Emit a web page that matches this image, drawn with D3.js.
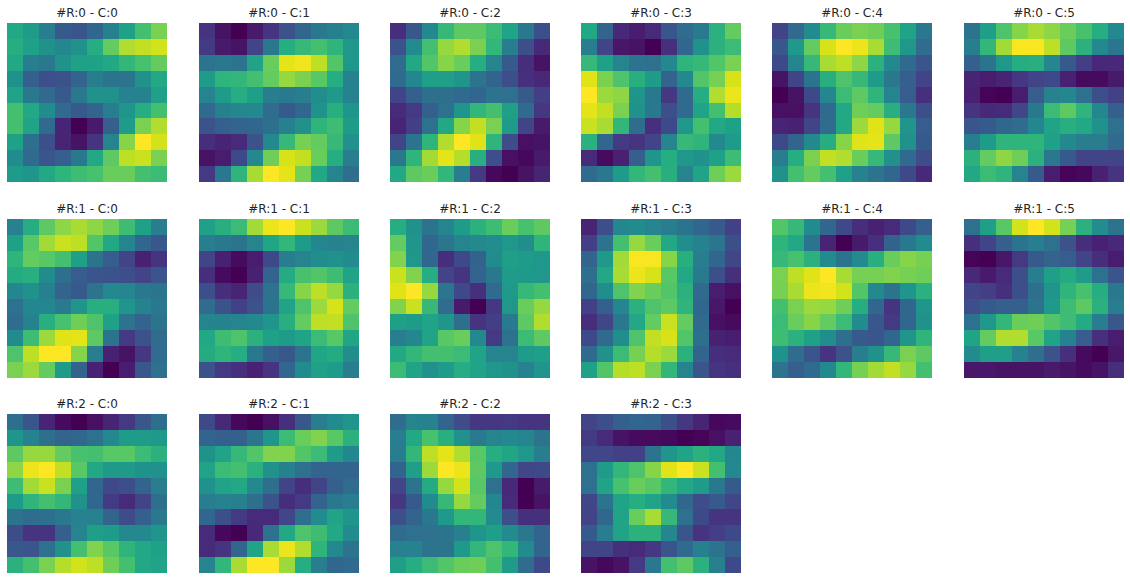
<!DOCTYPE html>
<html><head><meta charset="utf-8">
<script src="https://cdn.jsdelivr.net/npm/d3@7"></script>
<style>html,body{margin:0;padding:0;background:#fff;overflow:hidden}svg{display:block}text{font-family:"DejaVu Sans",sans-serif;font-size:12px;fill:#262626}rect{shape-rendering:crispEdges}</style>
</head><body><svg id="c" width="1130" height="581"></svg>
<script>
const R0C0=[[60,55,42,28,26,33,43,57,70,80],[62,57,50,46,50,62,76,88,91,93],[60,42,40,50,57,57,60,66,71,76],[50,30,24,25,32,42,38,38,50,60],[58,40,34,28,40,50,50,44,44,57],[70,60,48,34,28,32,42,52,62,70],[70,58,34,10,0,7,30,55,80,88],[57,36,24,10,5,15,45,82,100,93],[48,34,26,30,40,60,75,90,92,80],[55,52,60,65,69,71,77,77,70,68]];
const R0C1=[[15,5,0,7,15,25,33,40,43,47],[17,7,5,20,40,62,67,70,65,53],[38,40,38,58,77,96,98,90,73,53],[55,65,66,70,76,84,80,74,62,44],[45,55,62,56,42,41,42,49,54,44],[34,43,46,47,35,28,33,50,63,52],[25,30,32,33,36,43,50,65,69,55],[13,10,12,25,47,67,79,76,67,50],[5,8,22,47,78,94,91,77,62,42],[17,40,65,87,100,96,79,60,45,36]];
const R0C2=[[13,27,47,67,75,75,68,58,40,24],[25,48,70,84,88,80,66,42,24,11],[35,60,73,82,77,62,45,28,13,5],[34,46,56,56,52,38,32,24,14,11],[20,30,36,36,34,33,38,37,28,18],[12,17,30,37,52,66,70,56,34,16],[10,18,37,60,82,91,80,55,20,7],[20,38,65,88,100,95,65,23,4,5],[40,65,86,96,89,63,24,4,2,7],[60,75,77,66,42,17,2,0,5,10]];
const R0C3=[[60,32,11,8,12,26,35,41,64,76],[42,20,6,5,0,14,33,50,64,68],[67,57,45,38,37,47,65,67,73,80],[95,80,72,63,55,32,47,73,79,94],[100,85,83,52,40,16,34,62,88,97],[96,91,80,50,40,24,34,58,70,89],[92,87,66,35,14,22,53,70,60,57],[64,33,17,15,20,45,67,65,47,55],[12,3,9,30,52,62,53,50,57,69],[34,40,55,66,70,63,45,58,78,85]];
const R0C4=[[20,34,48,67,77,80,78,71,58,40],[27,54,76,94,100,97,87,69,53,35],[22,45,67,87,90,83,64,47,34,26],[5,20,38,63,72,67,55,40,30,20],[0,5,22,46,68,75,65,45,29,14],[4,4,15,34,60,78,76,63,40,24],[10,9,20,35,60,85,95,84,52,29],[22,32,47,62,82,95,96,75,50,28],[42,62,80,91,88,77,67,50,34,23],[50,70,76,70,57,44,38,33,22,11]];
const R0C5=[[38,56,72,82,87,83,77,71,62,47],[42,66,86,99,99,90,75,64,47,39],[30,38,53,62,63,46,28,18,11,11],[10,8,10,16,20,22,9,3,3,7],[9,1,0,8,29,44,46,37,24,19],[15,11,12,21,40,68,75,65,46,30],[26,28,33,35,46,58,63,60,50,37],[42,55,65,65,65,57,47,42,42,34],[64,76,83,78,64,40,28,20,20,20],[60,68,65,45,28,8,1,2,9,15]];
const R1C0=[[44,62,75,83,87,83,78,69,57,42],[57,74,86,92,90,73,60,45,33,27],[65,76,74,70,56,38,29,20,9,15],[61,63,48,36,29,26,25,24,20,26],[46,50,43,32,28,38,47,46,40,38],[37,46,46,41,52,63,63,52,44,40],[35,44,63,71,78,72,57,38,32,38],[48,69,85,95,96,75,38,17,25,35],[72,90,100,100,82,42,9,5,16,35],[80,85,76,55,31,9,0,8,27,37]];
const R1C1=[[57,63,68,86,97,100,92,85,75,68],[42,40,38,45,59,66,55,46,44,45],[20,9,3,8,22,42,45,49,50,48],[13,3,0,9,32,61,71,73,69,58],[24,13,10,23,38,67,82,90,84,64],[35,25,19,25,38,58,72,85,94,76],[45,44,45,47,52,63,76,90,91,72],[60,69,72,64,57,55,58,68,74,59],[61,65,62,40,30,27,38,59,61,49],[25,17,14,9,15,33,48,57,55,42]];
const R1C2=[[62,50,38,45,55,64,69,77,71,75],[76,52,33,39,45,47,49,53,49,65],[81,53,33,13,22,31,48,56,55,53],[92,81,62,20,15,32,40,55,54,53],[95,100,84,39,22,14,34,54,67,70],[81,92,67,35,7,0,16,53,77,84],[56,55,58,52,36,15,18,41,75,88],[42,46,58,74,77,47,17,37,68,75],[60,66,70,70,68,58,45,45,55,56],[68,58,50,55,62,58,53,50,44,52]];
const R1C3=[[10,24,46,48,45,42,38,33,28,19],[18,38,70,84,77,60,49,44,39,24],[32,54,86,99,99,82,63,42,33,21],[36,60,87,97,94,74,60,41,24,14],[33,49,72,81,77,73,64,34,8,4],[19,30,46,64,72,75,65,33,6,0],[13,21,40,60,76,92,76,34,4,3],[22,34,49,72,91,94,73,36,9,8],[34,50,68,79,89,85,64,32,13,12],[57,73,89,90,80,66,45,26,15,14]];
const R1C4=[[73,67,48,33,22,13,9,12,22,30],[65,60,38,10,0,7,14,31,40,48],[67,71,64,48,38,48,63,77,82,79],[80,90,95,100,87,79,79,81,79,78],[79,87,97,98,93,73,47,38,52,64],[70,80,85,84,78,62,33,15,33,52],[68,77,82,76,68,48,27,17,33,50],[69,64,57,49,36,28,26,33,52,65],[50,35,26,15,25,42,50,67,80,75],[38,30,34,47,66,79,86,91,84,70]];
const R1C5=[[37,56,74,93,100,93,79,64,49,38],[14,20,30,38,42,37,25,13,9,11],[1,0,6,17,28,32,29,20,13,8],[11,7,12,24,42,56,61,55,37,26],[20,18,14,24,36,52,65,71,62,40],[24,28,30,30,38,54,69,75,64,42],[37,53,66,77,78,73,69,61,42,27],[58,76,88,88,74,58,44,29,14,8],[48,56,56,44,36,25,14,3,0,6],[6,6,5,5,5,7,5,3,5,13]];
const R2C0=[[36,26,10,3,0,4,10,17,27,36],[52,44,36,32,33,37,47,55,55,54],[75,84,84,76,71,70,74,74,68,64],[83,97,100,91,74,60,54,54,51,50],[69,86,92,80,57,33,22,24,32,42],[55,65,70,66,50,33,17,12,20,36],[38,35,36,40,44,44,32,23,30,40],[23,15,15,30,45,56,55,47,47,52],[27,26,37,50,70,81,74,65,60,57],[64,70,80,89,93,90,78,70,60,58]];
const R2C1=[[22,11,2,0,4,14,27,42,48,52],[32,30,30,39,52,68,77,81,74,64],[50,58,67,73,81,81,73,68,55,46],[58,68,70,64,50,43,37,32,32,32],[50,58,60,47,36,20,13,20,30,35],[42,44,43,36,25,13,17,32,40,42],[33,24,17,12,12,21,36,48,58,52],[12,2,0,11,37,60,72,69,60,48],[12,15,33,58,87,97,88,65,47,38],[45,66,87,100,100,85,62,42,33,34]];
const R2C2=[[35,45,44,32,23,16,16,17,15,15],[42,60,71,63,50,41,45,47,45,38],[42,66,90,96,88,74,62,59,53,42],[32,56,85,100,97,75,54,33,21,22],[21,38,61,84,93,74,37,11,0,7],[16,28,48,67,84,76,46,12,0,5],[24,32,40,54,66,66,48,24,14,14],[35,37,37,38,43,52,56,48,40,32],[44,44,38,38,54,66,72,66,48,32],[56,62,68,73,77,78,70,55,35,22]];
const R2C3=[[20,24,30,33,32,24,16,10,2,3],[17,12,5,3,3,2,0,1,4,9],[21,21,19,19,38,52,58,64,60,46],[37,55,66,72,82,95,100,92,70,47],[37,58,71,77,74,66,60,55,40,28],[21,38,58,62,58,48,33,23,28,21],[20,33,58,77,87,67,37,22,15,15],[28,42,58,64,64,46,26,15,18,22],[20,20,14,12,16,26,34,43,38,30],[5,2,5,17,40,70,75,64,43,22]];

const rowIds=[0,1,2];
const colIds=[0,1,2,3,4,5];
const panels=[
 [R0C0,R0C1,R0C2,R0C3,R0C4,R0C5],
 [R1C0,R1C1,R1C2,R1C3,R1C4,R1C5],
 [R2C0,R2C1,R2C2,R2C3]
];
const panelLeft=[7,199,390,581,772,964];
const panelTop=[23,219,414];
const panelW=160,panelH=159;

const color=d3.scaleSequential(d3.interpolateViridis).domain([0,100]);
const idx=d3.range(10);
const x=d3.scaleBand().domain(idx).range([0,panelW]);
const y=d3.scaleBand().domain(idx).range([0,panelH]);
const svg=d3.select('#c');
panels.forEach((row,r)=>row.forEach((m,c)=>{
  const g=svg.append('g').attr('transform',`translate(${panelLeft[c]},${panelTop[r]})`);
  g.append('text').attr('x',panelW/2).attr('y',-6).attr('text-anchor','middle')
   .text(`#R:${rowIds[r]} - C:${colIds[c]}`);
  const cells=m.flatMap((vals,i)=>vals.map((v,j)=>({i,j,v})));
  g.selectAll('rect').data(cells).join('rect')
   .attr('x',d=>x(d.j)).attr('y',d=>y(d.i))
   .attr('width',x.bandwidth()).attr('height',y.bandwidth())
   .attr('fill',d=>color(d.v));
}));
</script></body></html>
